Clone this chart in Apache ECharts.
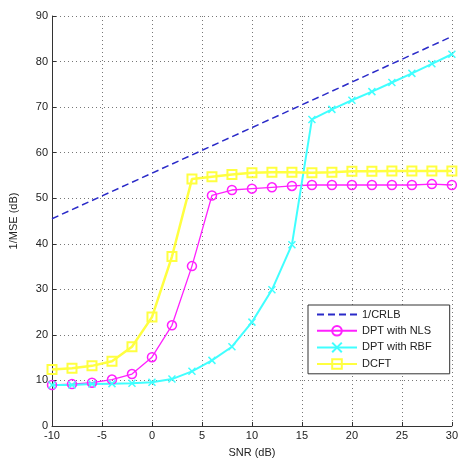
<!DOCTYPE html>
<html><head><meta charset="utf-8">
<script src="https://cdn.jsdelivr.net/npm/echarts@6/dist/echarts.min.js"></script>
<style>html,body{margin:0;padding:0;background:#fff}#c{width:461px;height:463px}</style>
</head><body><div id="c"></div>
<script>
var snr = [-10,-8,-6,-4,-2,0,2,4,6,8,10,12,14,16,18,20,22,24,26,28,30];
var crlb = [45.5,47.5,49.5,51.5,53.5,55.5,57.5,59.5,61.5,63.5,65.5,67.5,69.5,71.5,73.5,75.5,77.5,79.5,81.5,83.5,85.5];
var nls = [9.0,9.2,9.5,10.2,11.4,15.1,22.1,35.1,50.6,51.8,52.1,52.4,52.7,52.9,52.9,52.9,52.9,52.9,52.9,53.1,52.9];
var rbf = [9.0,9.0,9.2,9.3,9.4,9.6,10.3,12.0,14.4,17.4,22.8,29.9,39.8,67.3,69.5,71.5,73.4,75.4,77.4,79.5,81.6];
var dcft = [12.4,12.7,13.2,14.2,17.4,23.9,37.2,54.2,54.7,55.2,55.6,55.7,55.7,55.6,55.7,55.9,55.9,56.0,56.0,56.0,56.0];
var names = ['1/CRLB','DPT with NLS','DPT with RBF','DCFT'];
function pairs(v){return snr.map(function(x,i){return [x,v[i]];});}
var font = 'Liberation Sans, Arial, sans-serif';
var chart = echarts.init(document.getElementById('c'));
chart.setOption({
  animation:false,
  backgroundColor:'#fff',
  grid:{left:51,top:16,right:5,bottom:32},
  xAxis:{type:'value',min:-10,max:30,interval:5,
    name:'SNR (dB)',nameLocation:'middle',nameGap:21,
    nameTextStyle:{color:'#222',fontSize:11,fontFamily:font},
    axisLine:{show:true,onZero:false,lineStyle:{color:'#333',width:1}},
    axisTick:{show:true,inside:true,length:4,lineStyle:{color:'#333'}},
    axisLabel:{color:'#222',fontSize:11,fontFamily:font,margin:4},
    splitLine:{show:true,lineStyle:{color:'#777',type:[1,3],width:1}}},
  yAxis:{type:'value',min:0,max:90,interval:10,
    name:'1/MSE (dB)',nameLocation:'middle',nameGap:33,nameRotate:90,
    nameTextStyle:{color:'#222',fontSize:11,fontFamily:font},
    axisLine:{show:true,onZero:false,lineStyle:{color:'#333',width:1}},
    axisTick:{show:true,inside:true,length:4,lineStyle:{color:'#333'}},
    axisLabel:{color:'#222',fontSize:11,fontFamily:font,margin:4},
    splitLine:{show:true,lineStyle:{color:'#777',type:[1,3],width:1}}},
  legend:{orient:'vertical',left:308,top:305,
    backgroundColor:'#fff',borderColor:'#333',borderWidth:1,borderRadius:0,
    padding:[4,18,4,8],itemGap:5,itemWidth:40,itemHeight:12,
    textStyle:{color:'#222',fontSize:11,fontFamily:font},
    data:[{name:names[0],itemStyle:{color:'rgba(0,0,0,0)',borderWidth:0,opacity:0}},names[1],names[2],names[3]]},
  series:[
    {name:names[0],type:'line',data:pairs(crlb),showSymbol:false,symbol:'none',
     lineStyle:{color:'#2a2ac8',width:1.5,type:[7,4]},itemStyle:{color:'#2a2ac8'}},
    {name:names[1],type:'line',data:pairs(nls),symbol:'circle',symbolSize:9,
     lineStyle:{color:'#ff20ff',width:1.3},
     itemStyle:{color:'rgba(0,0,0,0)',borderColor:'#ff20ff',borderWidth:1.5}},
    {name:names[2],type:'line',data:pairs(rbf),symbol:'path://M0,0L10,10M10,0L0,10',symbolSize:7,
     lineStyle:{color:'#40ffff',width:2},
     itemStyle:{color:'rgba(0,0,0,0)',borderColor:'#40ffff',borderWidth:1.5}},
    {name:names[3],type:'line',data:pairs(dcft),symbol:'rect',symbolSize:9,
     lineStyle:{color:'#ffff40',width:2.5},
     itemStyle:{color:'rgba(0,0,0,0)',borderColor:'#ffff40',borderWidth:2}}
  ]
});
</script></body></html>
